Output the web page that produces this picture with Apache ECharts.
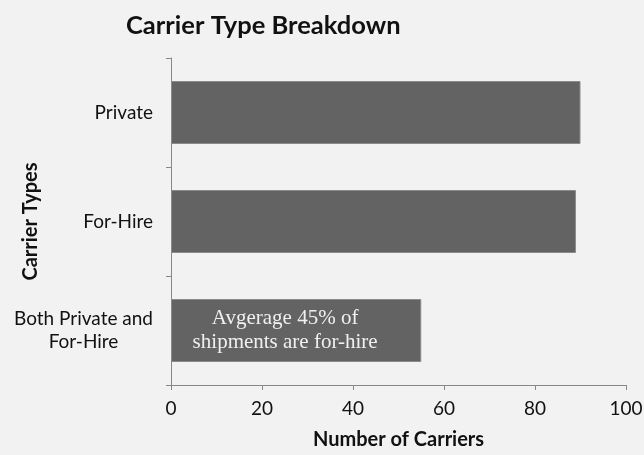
<!DOCTYPE html>
<html>
<head>
<meta charset="utf-8">
<script src="https://cdn.jsdelivr.net/npm/echarts@6/dist/echarts.min.js"></script>
<style>
  html, body { margin: 0; padding: 0; background: #f2f2f2; }
  #chart { width: 644px; height: 455px; }
</style>
</head>
<body>
<div id="chart"></div>
<script>
// Carrier counts by type (top to bottom)
const categories = ['Private', 'For-Hire', 'Both Private and\nFor-Hire'];
const carriers = [90, 89, 55];
const xTicks = [0, 20, 40, 60, 80, 100];
const noteText = 'Avgerage 45% of\nshipments are for-hire';

const chart = echarts.init(document.getElementById('chart'));
const font = 'Lato, "Open Sans", sans-serif';

chart.setOption({
  backgroundColor: '#f2f2f2',
  animation: false,
  title: {
    text: 'Carrier Type Breakdown',
    left: 121,
    top: 8,
    textStyle: { fontFamily: font, fontWeight: 'bold', fontSize: 25.5, color: '#111' }
  },
  grid: { left: 171, right: 18, top: 58, bottom: 70, containLabel: false, outerBoundsMode: 'none' },
  xAxis: {
    type: 'value',
    min: xTicks[0],
    max: xTicks[xTicks.length - 1],
    interval: 20,
    name: 'Number of Carriers',
    nameLocation: 'middle',
    nameGap: 45,
    nameMoveOverlap: false,
    nameTextStyle: { fontFamily: font, fontWeight: 'bold', fontSize: 20, color: '#111' },
    axisLine: { show: true, lineStyle: { color: '#888', width: 1 } },
    axisTick: { show: true, length: 5, lineStyle: { color: '#888' } },
    axisLabel: { fontFamily: font, fontSize: 19, color: '#111', margin: 14 },
    splitLine: { show: false }
  },
  yAxis: {
    type: 'category',
    inverse: true,
    data: categories,
    name: 'Carrier Types',
    nameLocation: 'middle',
    nameGap: 130,
    nameMoveOverlap: false,
    nameTextStyle: { fontFamily: font, fontWeight: 'bold', fontSize: 20, color: '#111' },
    axisLine: { show: true, lineStyle: { color: '#888', width: 1 } },
    axisTick: { show: true, length: 5, lineStyle: { color: '#888' } },
    axisLabel: {
      margin: 18,
      formatter: v => v.split('\n').map(s => '{c|' + s + '}').join('\n'),
      rich: { c: { align: 'center', fontFamily: font, fontSize: 19, color: '#111', lineHeight: 23 } }
    }
  },
  series: [{
    type: 'bar',
    data: carriers.map((v, i) => i === 2 ? {
      value: v,
      label: {
        show: true,
        position: 'inside',
        offset: [-11, 0],
        formatter: noteText,
        fontFamily: '"Liberation Serif", "DejaVu Serif", serif',
        fontSize: 21,
        lineHeight: 24,
        color: '#f0f0f0'
      }
    } : v),
    barWidth: 63,
    itemStyle: { color: '#636363', borderColor: '#8a8a8a', borderWidth: 1 }
  }]
});
</script>
</body>
</html>
